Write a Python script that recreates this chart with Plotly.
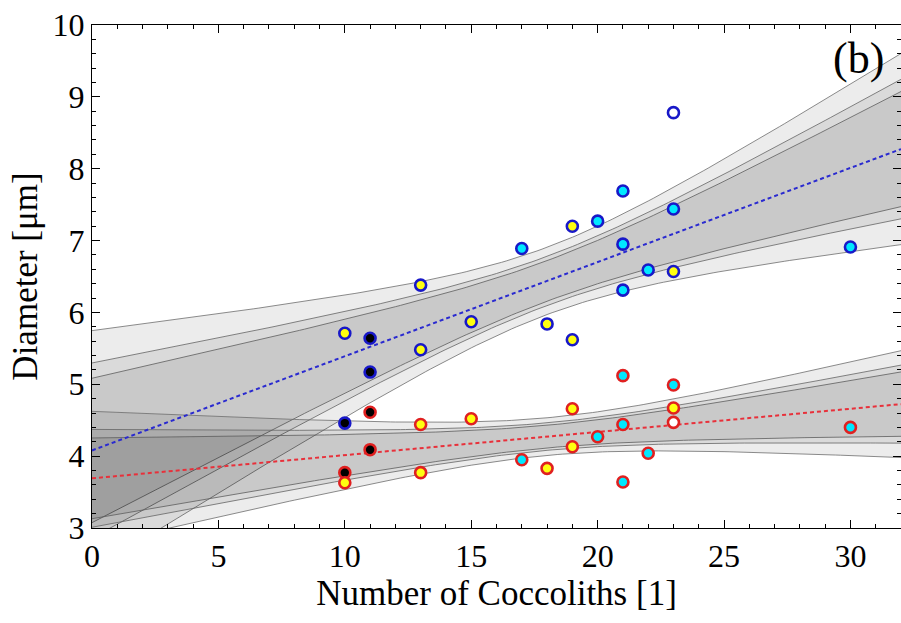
import numpy as np
import plotly.graph_objects as go

# ---- data ----
blue_x = [23, 21, 23, 19, 20, 17, 21, 22, 23, 21, 13, 15, 18, 19, 10, 11, 13, 11, 10, 30]
blue_y = [8.78, 7.69, 7.44, 7.20, 7.27, 6.89, 6.95, 6.59, 6.57, 6.31, 6.38, 5.87, 5.84, 5.62, 5.71, 5.64, 5.48, 5.17, 4.46, 6.91]
blue_fill = ["white", "cyan", "cyan", "yellow", "cyan", "cyan", "cyan", "cyan", "yellow", "cyan",
             "yellow", "yellow", "yellow", "yellow", "yellow", "black", "yellow", "black", "black", "cyan"]

red_x = [21, 23, 11, 19, 23, 15, 13, 21, 23, 20, 11, 19, 22, 17, 18, 13, 10, 10, 21, 30]
red_y = [5.12, 4.99, 4.61, 4.66, 4.67, 4.52, 4.44, 4.44, 4.47, 4.27, 4.09, 4.13, 4.04, 3.95, 3.83, 3.77, 3.77, 3.63, 3.64, 4.40]
red_fill = ["cyan", "cyan", "black", "yellow", "yellow", "yellow", "yellow", "cyan", "white", "cyan",
            "black", "yellow", "cyan", "cyan", "yellow", "yellow", "black", "yellow", "cyan", "cyan"]

# confidence levels of the mean-prediction bands and Student t quantiles (df = 18)
conf_levels = [0.90, 0.95, 0.99]
t_quantiles = [1.734, 2.101, 2.878]

x_ticks = [0, 5, 10, 15, 20, 25, 30]
y_ticks = [3, 4, 5, 6, 7, 8, 9, 10]

fill_map = {"white": "#ffffff", "cyan": "#00e8ff", "yellow": "#ffff10", "black": "#000000"}

fig = go.Figure()
xg = np.linspace(0, 32, 161)


def regression(xs, ys):
    xs = np.asarray(xs, float)
    ys = np.asarray(ys, float)
    n = len(xs)
    b, a = np.polyfit(xs, ys, 1)
    resid = ys - (a + b * xs)
    s = np.sqrt(np.sum(resid ** 2) / (n - 2))
    xbar = xs.mean()
    sxx = np.sum((xs - xbar) ** 2)
    fit = a + b * xg
    se = s * np.sqrt(1.0 / n + (xg - xbar) ** 2 / sxx)
    return fit, se


bands = []
for xs, ys in [(blue_x, blue_y), (red_x, red_y)]:
    fit, se = regression(xs, ys)
    bands.append((fit, se))
    for t in t_quantiles:
        lo = fit - t * se
        hi = fit + t * se
        fig.add_trace(go.Scatter(x=xg, y=lo, mode="lines",
                                 line=dict(color="rgba(110,110,110,0.8)", width=1),
                                 showlegend=False, hoverinfo="skip"))
        fig.add_trace(go.Scatter(x=xg, y=hi, mode="lines", fill="tonexty",
                                 fillcolor="rgba(0,0,0,0.075)",
                                 line=dict(color="rgba(110,110,110,0.8)", width=1),
                                 showlegend=False, hoverinfo="skip"))

fig.add_trace(go.Scatter(x=xg, y=bands[0][0], mode="lines",
                         line=dict(color="#2a2ad0", width=2, dash="4px,3px"),
                         showlegend=False, hoverinfo="skip"))
fig.add_trace(go.Scatter(x=xg, y=bands[1][0], mode="lines",
                         line=dict(color="#e8303a", width=2, dash="4px,3px"),
                         showlegend=False, hoverinfo="skip"))

fig.add_trace(go.Scatter(x=blue_x, y=blue_y, mode="markers", name="blue",
                         marker=dict(size=11, color=[fill_map[c] for c in blue_fill],
                                     line=dict(color="#1818c8", width=2.6)),
                         showlegend=False))
fig.add_trace(go.Scatter(x=red_x, y=red_y, mode="markers", name="red",
                         marker=dict(size=11, color=[fill_map[c] for c in red_fill],
                                     line=dict(color="#e02020", width=2.6)),
                         showlegend=False))

font = "Liberation Serif, Times New Roman, serif"
fig.update_layout(
    width=901, height=623,
    margin=dict(l=92, r=0, t=25, b=95),
    paper_bgcolor="white", plot_bgcolor="white",
    font=dict(family=font, color="black", size=32),
    xaxis=dict(range=[0, 32], tickmode="array", tickvals=x_ticks,
               ticks="inside", ticklen=8, tickwidth=1, tickcolor="black",
               minor=dict(dtick=1, ticks="inside", ticklen=4, tickcolor="black"),
               showline=True, linecolor="black", linewidth=1, mirror="ticks",
               showgrid=False, zeroline=False,
               tickfont=dict(size=32, family=font),
               title=dict(text="Number of Coccoliths [1]", font=dict(size=35, family=font), standoff=5)),
    yaxis=dict(range=[3, 10], tickmode="array", tickvals=y_ticks,
               ticks="inside", ticklen=8, tickwidth=1, tickcolor="black",
               minor=dict(dtick=0.2, ticks="inside", ticklen=4, tickcolor="black"),
               showline=True, linecolor="black", linewidth=1, mirror="ticks",
               showgrid=False, zeroline=False,
               tickfont=dict(size=32, family=font),
               title=dict(text="Diameter [μm]", font=dict(size=35, family=font), standoff=4)),
    annotations=[dict(text="(b)", x=0.947, y=0.934, xref="paper", yref="paper",
                      xanchor="center", yanchor="middle",
                      showarrow=False, font=dict(size=44, family=font))],
)

fig.write_html("out.html")
